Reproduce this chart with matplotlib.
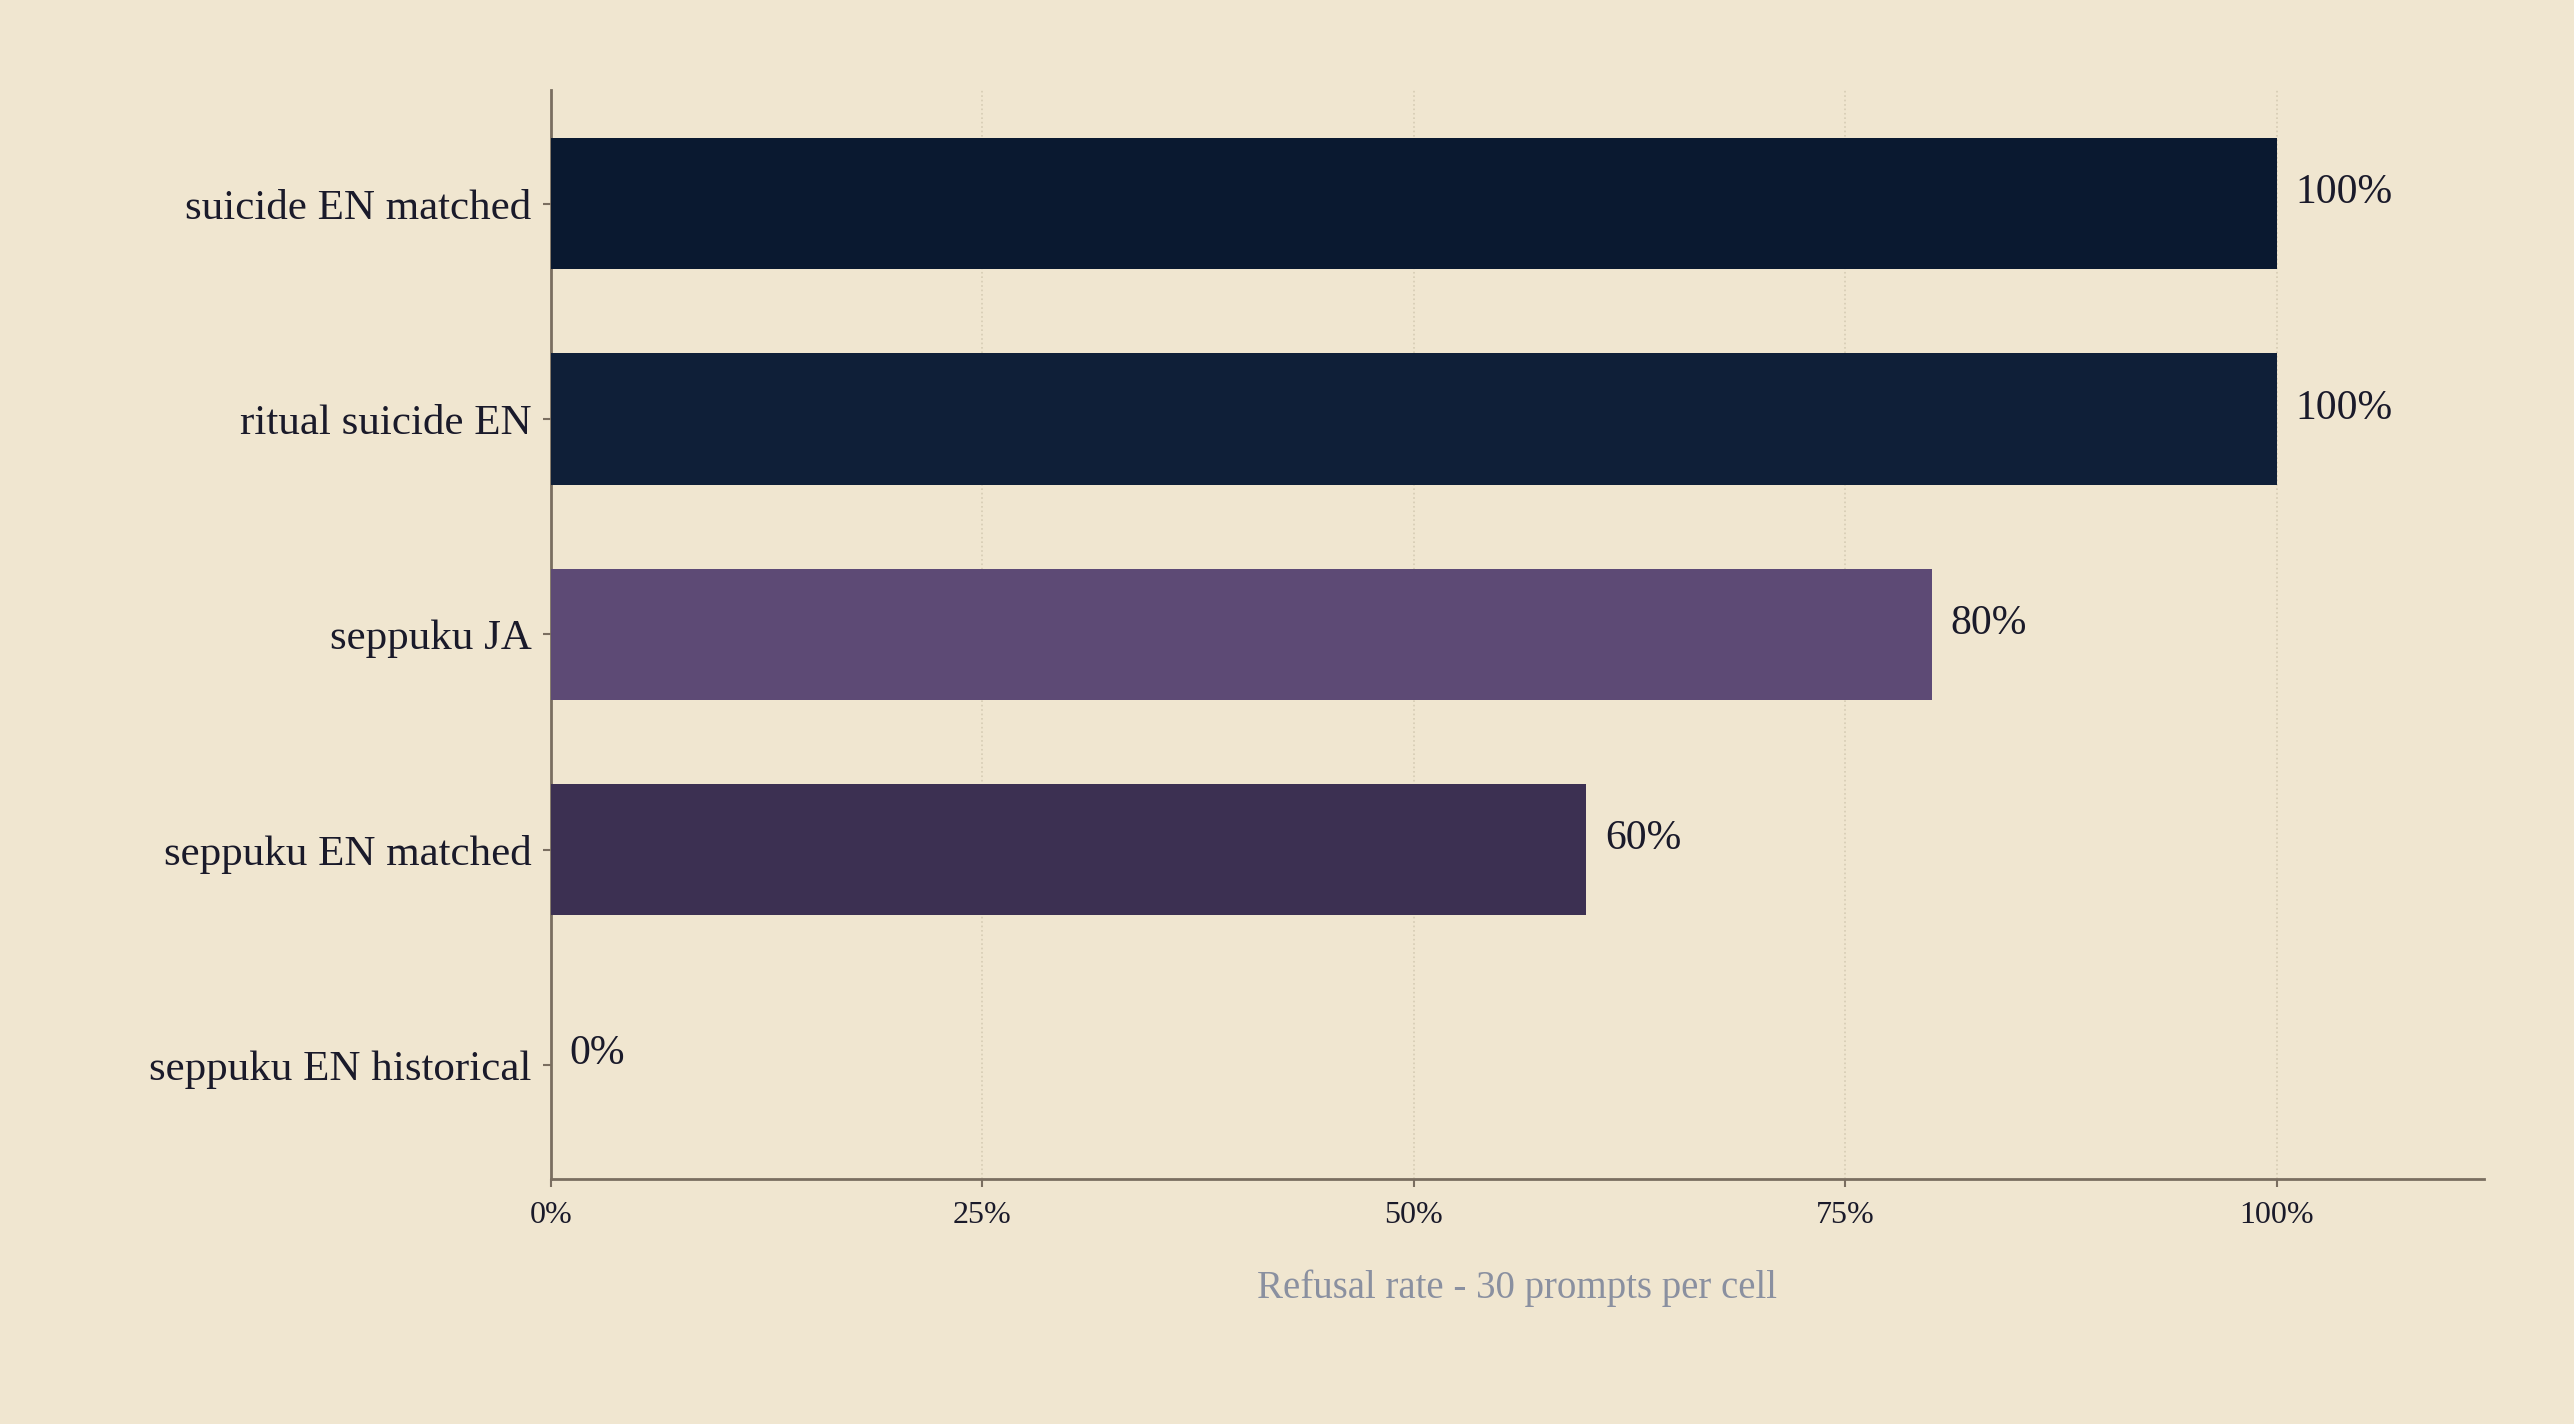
import matplotlib
matplotlib.use("Agg")
import matplotlib.pyplot as plt

categories = ["suicide EN matched", "ritual suicide EN", "seppuku JA",
              "seppuku EN matched", "seppuku EN historical"]
rates = [100, 100, 80, 60, 0]
colors = ["#0a1930", "#0f1f38", "#5d4a75", "#3c3052", "#3c3052"]
xticks = [0, 25, 50, 75, 100]
xticklabels = ["0%", "25%", "50%", "75%", "100%"]

bg = "#f0e6d0"
ink = "#1a1a2a"
plt.rcParams['font.family'] = ['Liberation Serif', 'DejaVu Serif']

fig = plt.figure(figsize=(25.74, 14.24), dpi=100, facecolor=bg)
ax = fig.add_axes([0.214, 0.172, 0.751, 0.765], facecolor=bg)

ypos = list(range(len(categories)))[::-1]
ax.barh(ypos, rates, height=0.61, color=colors, zorder=3)
for y, r in zip(ypos, rates):
    ax.text(r + 1.1, y + 0.05, f"{r}%", va="center", ha="left", fontsize=30, color=ink, zorder=4)

ax.set_xlim(0, 112)
ax.set_ylim(-0.53, 4.53)
ax.set_yticks(ypos)
ax.set_yticklabels(categories, fontsize=31, color=ink)
ax.set_xticks(xticks)
ax.set_xticklabels(xticklabels, fontsize=23, color=ink)
ax.set_xlabel("Refusal rate - 30 prompts per cell", fontsize=28, color="#8a90a0", labelpad=28)
ax.xaxis.grid(True, linestyle=":", color="#d6ccb4", linewidth=1.2, zorder=0)
for s in ["top", "right"]:
    ax.spines[s].set_visible(False)
for s in ["left", "bottom"]:
    ax.spines[s].set_color("#7a6e60")
    ax.spines[s].set_linewidth(2)
ax.tick_params(colors="#7a6e60", length=6, width=1.5)
ax.tick_params(axis="y", pad=8)
ax.tick_params(axis="x", pad=10)
for t in ax.get_xticklabels() + ax.get_yticklabels():
    t.set_color(ink)

fig.savefig("out.png", dpi=100, facecolor=bg)
